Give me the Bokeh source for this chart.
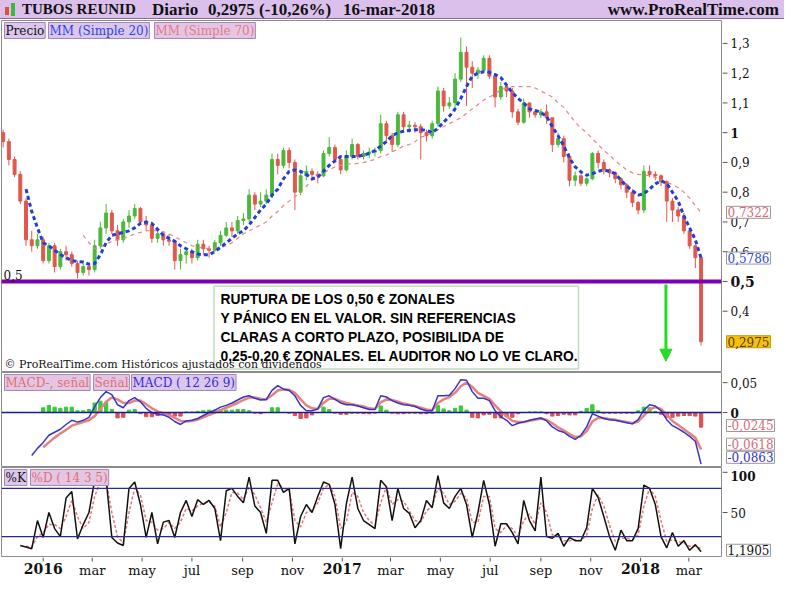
import numpy as np
import pandas as pd
from bokeh.plotting import figure
from bokeh.layouts import column, row
from bokeh.models import (ColumnDataSource, Span, Label, BoxAnnotation, Arrow,
                          NormalHead, Div, Range1d, Spacer)
from bokeh.core.properties import value
from bokeh.embed import file_html
from bokeh.resources import INLINE

# ---------------- data (weekly) ----------------
first_week = "2015-11-13"
n_weeks = 123

opens = [1.00, 0.97, 0.91, 0.86, 0.77, 0.64, 0.62, 0.64, 0.57, 0.62,
         0.55, 0.60, 0.59, 0.56, 0.53, 0.55, 0.54, 0.62, 0.68, 0.73,
         0.67, 0.64, 0.70, 0.72, 0.745, 0.70, 0.69, 0.645, 0.66, 0.64,
         0.635, 0.57, 0.59, 0.60, 0.58, 0.625, 0.61, 0.605, 0.63, 0.655,
         0.68, 0.67, 0.705, 0.71, 0.79, 0.76, 0.77, 0.79, 0.91, 0.89,
         0.94, 0.90, 0.80, 0.855, 0.87, 0.86, 0.855, 0.93, 0.95, 0.91,
         0.875, 0.92, 0.96, 0.92, 0.93, 0.935, 0.94, 1.03, 0.99, 0.96,
         1.06, 1.02, 1.025, 1.02, 1.00, 0.99, 1.03, 1.14, 1.09, 1.10,
         1.18, 1.27, 1.22, 1.20, 1.21, 1.25, 1.19, 1.12, 1.155, 1.14,
         1.07, 1.035, 1.10, 1.07, 1.06, 1.07, 1.05, 0.96, 0.98, 0.92,
         0.84, 0.855, 0.83, 0.845, 0.93, 0.90, 0.875, 0.865, 0.845, 0.825,
         0.80, 0.765, 0.74, 0.87, 0.86, 0.855, 0.835, 0.77, 0.74, 0.72,
         0.67, 0.62, 0.58]
highs = [1.01, 0.98, 0.92, 0.87, 0.78, 0.67, 0.66, 0.65, 0.63, 0.63,
         0.61, 0.62, 0.60, 0.57, 0.57, 0.56, 0.64, 0.70, 0.76, 0.74,
         0.69, 0.71, 0.74, 0.76, 0.75, 0.72, 0.70, 0.67, 0.67, 0.66,
         0.64, 0.61, 0.61, 0.61, 0.64, 0.64, 0.62, 0.64, 0.67, 0.70,
         0.70, 0.72, 0.73, 0.81, 0.80, 0.80, 0.81, 0.93, 0.93, 0.95,
         0.95, 0.91, 0.87, 0.89, 0.88, 0.87, 0.94, 0.985, 0.96, 0.92,
         0.94, 0.98, 0.965, 0.94, 0.95, 0.95, 1.06, 1.04, 1.00, 1.07,
         1.07, 1.04, 1.035, 1.03, 1.01, 1.04, 1.155, 1.15, 1.12, 1.20,
         1.32, 1.29, 1.24, 1.22, 1.26, 1.26, 1.20, 1.17, 1.16, 1.15,
         1.08, 1.115, 1.10, 1.08, 1.08, 1.095, 1.05, 1.00, 0.99, 0.93,
         0.87, 0.86, 0.85, 0.935, 0.94, 0.91, 0.88, 0.87, 0.85, 0.83,
         0.81, 0.77, 0.89, 0.89, 0.87, 0.86, 0.84, 0.78, 0.75, 0.73,
         0.68, 0.62, 0.59]
lows = [0.95, 0.89, 0.85, 0.76, 0.62, 0.60, 0.61, 0.56, 0.56, 0.53,
        0.54, 0.57, 0.55, 0.51, 0.52, 0.52, 0.53, 0.61, 0.66, 0.66,
        0.62, 0.63, 0.68, 0.71, 0.69, 0.67, 0.63, 0.63, 0.62, 0.62,
        0.54, 0.54, 0.56, 0.56, 0.57, 0.59, 0.58, 0.60, 0.62, 0.65,
        0.65, 0.66, 0.69, 0.70, 0.74, 0.75, 0.76, 0.78, 0.86, 0.88,
        0.88, 0.74, 0.79, 0.84, 0.84, 0.83, 0.85, 0.92, 0.90, 0.86,
        0.87, 0.91, 0.91, 0.91, 0.915, 0.92, 0.93, 0.97, 0.935, 0.95,
        1.00, 1.00, 1.00, 0.91, 0.97, 0.98, 1.02, 1.07, 1.08, 1.07,
        1.17, 1.09, 1.15, 1.18, 1.20, 1.18, 1.085, 1.11, 1.12, 1.05,
        1.025, 1.03, 1.05, 1.05, 1.05, 1.03, 0.935, 0.95, 0.90, 0.82,
        0.82, 0.82, 0.82, 0.84, 0.88, 0.86, 0.85, 0.83, 0.81, 0.78,
        0.75, 0.725, 0.73, 0.85, 0.84, 0.82, 0.70, 0.70, 0.70, 0.66,
        0.61, 0.545, 0.285]
closes = [0.97, 0.91, 0.86, 0.77, 0.64, 0.62, 0.64, 0.57, 0.62, 0.55,
          0.60, 0.59, 0.56, 0.53, 0.55, 0.54, 0.62, 0.68, 0.73, 0.67,
          0.64, 0.70, 0.72, 0.745, 0.70, 0.69, 0.645, 0.66, 0.64, 0.635,
          0.57, 0.59, 0.60, 0.58, 0.625, 0.61, 0.605, 0.63, 0.655, 0.68,
          0.67, 0.705, 0.71, 0.79, 0.76, 0.77, 0.79, 0.91, 0.89, 0.94,
          0.90, 0.80, 0.855, 0.87, 0.86, 0.855, 0.93, 0.95, 0.91, 0.875,
          0.92, 0.96, 0.92, 0.93, 0.935, 0.94, 1.03, 0.99, 0.96, 1.06,
          1.02, 1.025, 1.02, 1.00, 0.99, 1.03, 1.14, 1.09, 1.10, 1.18,
          1.27, 1.22, 1.20, 1.21, 1.25, 1.19, 1.12, 1.155, 1.14, 1.07,
          1.035, 1.10, 1.07, 1.06, 1.07, 1.05, 0.96, 0.98, 0.92, 0.84,
          0.855, 0.83, 0.845, 0.93, 0.90, 0.875, 0.865, 0.845, 0.825, 0.80,
          0.765, 0.74, 0.87, 0.86, 0.855, 0.835, 0.77, 0.74, 0.72, 0.67,
          0.62, 0.58, 0.2975]

ma20 = [None] * 4 + [
    0.81, 0.735, 0.68, 0.63, 0.62, 0.605, 0.59, 0.58, 0.57, 0.567,
    0.565, 0.558, 0.56, 0.59, 0.63, 0.655, 0.66, 0.665, 0.67, 0.68,
    0.695, 0.70, 0.695, 0.675, 0.655, 0.645, 0.635, 0.62, 0.61, 0.60,
    0.592, 0.59, 0.59, 0.60, 0.615, 0.63, 0.645, 0.66, 0.67, 0.69,
    0.715, 0.74, 0.76, 0.79, 0.81, 0.845, 0.87, 0.875, 0.87, 0.86,
    0.845, 0.85, 0.87, 0.89, 0.905, 0.92, 0.92, 0.92, 0.92, 0.925,
    0.93, 0.94, 0.955, 0.97, 0.99, 1.00, 1.005, 1.008, 1.01, 1.01,
    1.008, 1.00, 1.015, 1.035, 1.055, 1.08, 1.115, 1.155, 1.19, 1.20,
    1.205, 1.203, 1.195, 1.185, 1.16, 1.135, 1.115, 1.10, 1.08, 1.075,
    1.068, 1.055, 1.02, 0.99, 0.955, 0.915, 0.885, 0.868, 0.857, 0.862,
    0.87, 0.875, 0.87, 0.862, 0.84, 0.82, 0.805, 0.79, 0.795, 0.81,
    0.828, 0.838, 0.83, 0.80, 0.77, 0.72, 0.68, 0.64, 0.5786]
ma70 = [None] * 14 + [
    0.655, 0.63, 0.61, 0.615, 0.625, 0.635, 0.64, 0.645, 0.652, 0.66,
    0.665, 0.67, 0.672, 0.67, 0.667, 0.66, 0.65, 0.64, 0.63, 0.62,
    0.615, 0.612, 0.61, 0.612, 0.615, 0.62, 0.63, 0.645, 0.66, 0.67,
    0.68, 0.69, 0.70, 0.72, 0.735, 0.755, 0.77, 0.785, 0.80, 0.82,
    0.84, 0.855, 0.865, 0.875, 0.885, 0.89, 0.895, 0.895, 0.897, 0.90,
    0.905, 0.91, 0.92, 0.925, 0.935, 0.945, 0.955, 0.96, 0.97, 0.985,
    0.99, 1.00, 1.01, 1.02, 1.03, 1.04, 1.05, 1.065, 1.08, 1.095,
    1.11, 1.12, 1.13, 1.145, 1.15, 1.155, 1.155, 1.155, 1.155, 1.15,
    1.14, 1.13, 1.12, 1.10, 1.085, 1.06, 1.035, 1.015, 1.00, 0.98,
    0.96, 0.94, 0.925, 0.905, 0.89, 0.875, 0.865, 0.86, 0.858, 0.855,
    0.85, 0.842, 0.835, 0.825, 0.815, 0.80, 0.78, 0.755, 0.7322]

macd = [None] * 5 + [
    -0.072, -0.06, -0.05, -0.038, -0.033,
    -0.028, -0.02, -0.013, -0.016, -0.013, -0.008, 0.01, 0.025, 0.035, 0.03,
    0.013, 0.008, 0.02, 0.025, 0.018, 0.007, 0.0, -0.003, -0.004, -0.008,
    -0.015, -0.02, -0.014, -0.013, -0.01, -0.005, 0.0, 0.004, 0.009, 0.012,
    0.016, 0.021, 0.026, 0.028, 0.024, 0.021, 0.022, 0.037, 0.045, 0.039,
    0.037, 0.028, 0.012, 0.003, 0.003, 0.006, 0.025, 0.028, 0.022, 0.016,
    0.013, 0.013, 0.011, 0.008, 0.005, 0.005, 0.028, 0.026, 0.02, 0.016,
    0.013, 0.012, 0.01, 0.006, 0.003, 0.003, 0.028, 0.028, 0.029, 0.04,
    0.055, 0.054, 0.035, 0.024, 0.024, 0.02, 0.003, -0.007, -0.013, -0.022,
    -0.018, -0.016, -0.013, -0.011, -0.009, -0.014, -0.024, -0.03, -0.033, -0.04,
    -0.045, -0.038, -0.024, -0.002, -0.006, -0.01, -0.012, -0.013, -0.015, -0.017,
    -0.019, -0.012, 0.004, 0.013, 0.011, 0.003, -0.012, -0.022, -0.027, -0.033,
    -0.04, -0.048, -0.0863]
signal = [None] * 7 + [
    -0.058, -0.05, -0.042,
    -0.035, -0.029, -0.022, -0.019, -0.016, -0.013, -0.006, 0.006, 0.018, 0.025,
    0.022, 0.016, 0.016, 0.02, 0.02, 0.014, 0.007, 0.002, -0.001, -0.004,
    -0.009, -0.014, -0.015, -0.014, -0.012, -0.008, -0.004, 0.0, 0.004, 0.008,
    0.012, 0.016, 0.021, 0.025, 0.025, 0.023, 0.022, 0.029, 0.037, 0.039,
    0.038, 0.033, 0.022, 0.012, 0.007, 0.006, 0.016, 0.023, 0.023, 0.019,
    0.016, 0.014, 0.012, 0.010, 0.007, 0.006, 0.017, 0.022, 0.021, 0.018,
    0.015, 0.013, 0.011, 0.008, 0.005, 0.004, 0.016, 0.022, 0.026, 0.033,
    0.044, 0.05, 0.043, 0.033, 0.028, 0.023, 0.012, 0.002, -0.006, -0.014,
    -0.016, -0.016, -0.014, -0.012, -0.01, -0.012, -0.018, -0.025, -0.03, -0.036,
    -0.041, -0.040, -0.031, -0.015, -0.009, -0.009, -0.011, -0.012, -0.014, -0.016,
    -0.018, -0.015, -0.005, 0.005, 0.009, 0.006, -0.004, -0.014, -0.021, -0.028,
    -0.035, -0.042, -0.0618]

stoch_k = [None] * 3 + [
    9, 7, 5, 40, 19, 50, 30,
    20, 68, 76, 17, 35, 50, 90, 90, 92, 19,
    12, 9, 80, 88, 60, 19, 50, 11, 38, 40,
    19, 50, 65, 45, 66, 60, 65, 55, 15, 77,
    80, 70, 62, 94, 58, 50, 24, 90, 90, 75,
    80, 11, 45, 60, 50, 70, 88, 85, 60, 5,
    61, 94, 55, 40, 35, 30, 90, 82, 40, 80,
    55, 49, 31, 40, 65, 56, 96, 62, 55, 70,
    80, 60, 19, 50, 90, 60, 8, 36, 36, 25,
    11, 65, 40, 27, 94, 20, 18, 24, 8, 19,
    15, 15, 31, 80, 69, 45, 20, 3, 28, 15,
    15, 30, 84, 80, 60, 20, 6, 25, 8, 15,
    3, 10, 1.19]
stoch_d = [None] * 4 + [
    8, 7, 20, 25, 35, 35,
    30, 45, 65, 45, 30, 38, 70, 88, 90, 50,
    20, 12, 50, 80, 72, 40, 38, 28, 30, 38,
    30, 38, 55, 52, 58, 62, 63, 58, 32, 50,
    75, 74, 66, 82, 72, 56, 38, 62, 86, 80,
    78, 40, 32, 50, 53, 62, 80, 85, 70, 30,
    38, 75, 70, 50, 40, 34, 62, 82, 60, 66,
    64, 52, 40, 38, 52, 58, 80, 74, 60, 64,
    74, 68, 38, 38, 70, 70, 30, 25, 34, 30,
    20, 40, 48, 35, 62, 50, 22, 22, 15, 15,
    16, 15, 22, 55, 72, 58, 34, 14, 18, 18,
    16, 22, 58, 80, 70, 40, 14, 16, 14, 12,
    8, 8, 5]

price_ticks = [0.4, 0.5, 0.6, 0.7, 0.8, 0.9, 1.0, 1.1, 1.2, 1.3]
price_tick_labels = ["0,4", "0,5", "0,6", "0,7", "0,8", "0,9", "1", "1,1", "1,2", "1,3"]
price_tick_bold = [False, True, False, False, False, False, True, False, False, False]
macd_ticks = [0.0, 0.05]
macd_tick_labels = ["0", "0,05"]
macd_tick_bold = [True, False]
stoch_ticks = [50, 100]
stoch_tick_labels = ["50", "100"]
stoch_tick_bold = [False, True]
month_ticks = ["2016-01-01", "2016-03-01", "2016-05-01", "2016-07-01", "2016-09-01",
               "2016-11-01", "2017-01-01", "2017-03-01", "2017-05-01", "2017-07-01",
               "2017-09-01", "2017-11-01", "2018-01-01", "2018-03-01"]
month_labels = ["2016", "mar", "may", "jul", "sep", "nov", "2017", "mar", "may",
                "jul", "sep", "nov", "2018", "mar"]

# ---------------- helpers ----------------
dates = pd.date_range(first_week, periods=n_weeks, freq="7D")
o = np.array(opens); h = np.array(highs); l = np.array(lows); c = np.array(closes)
UP, DOWN = "#4cb83c", "#e0584c"
cols = [UP if cc >= oo else DOWN for oo, cc in zip(o, c)]

W = 784
RB = 62            # right-hand axis column
MW = W - RB        # main panel width (722)
SERIF = "DejaVu Serif"
LILAC = "#dcc6ec"
LILAC_B = "#a488b8"
AX = "#8c8c8c"
DAY = 86400000.0


def ms(s):
    return pd.Timestamp(s).value / 1e6


xr = Range1d(pd.Timestamp("2015-11-11"), pd.Timestamp("2018-04-10"))


def main_fig(hgt, yr):
    p = figure(width=MW, height=hgt, x_axis_type="datetime", x_range=xr, y_range=yr,
               output_backend="svg", toolbar_location=None, x_axis_location=None,
               y_axis_location=None, min_border_left=1, min_border_right=1,
               min_border_top=0, min_border_bottom=0)
    p.xgrid.visible = False
    p.ygrid.visible = False
    p.outline_line_color = AX
    p.border_fill_color = "white"
    return p


def side_fig(hgt, yr, ticks, labels, bold, big=None, offsets=None):
    s = figure(width=RB, height=hgt, x_range=Range1d(0, RB), y_range=yr,
               output_backend="svg", toolbar_location=None, x_axis_location=None,
               y_axis_location=None, min_border_left=0, min_border_right=0,
               min_border_top=0, min_border_bottom=0)
    s.xgrid.visible = False
    s.ygrid.visible = False
    s.outline_line_color = None
    s.segment(x0=0, y0=ticks, x1=5, y1=ticks, line_color="#555555", line_width=1)
    offsets = offsets or {}
    for t, lab, b in zip(ticks, labels, bold):
        size = big[1] if (big and lab == big[0]) else "12px"
        s.text(x=[8], y=[t], text=[lab], text_font=value(SERIF),
               text_font_size=value(size), text_font_style="bold" if b else "normal",
               text_color="#111111", text_baseline="middle",
               y_offset=offsets.get(lab, 0))
    return s


def legend_box(p, x, frame_h, text, color, bg=LILAC):
    p.add_layout(Label(x=x, y=frame_h - 2, x_units="screen", y_units="screen",
                       text=text, text_color=color, text_font=SERIF,
                       text_font_size="12px", text_baseline="top", text_align="left",
                       background_fill_color=bg, border_line_color=LILAC_B,
                       padding=1))


def value_box(s, y, text, color, bg="white", border="#9a9a9a"):
    s.add_layout(Label(x=4, y=y, x_units="screen", y_units="data", text=text,
                       text_color=color, text_font=SERIF, text_font_size="12px",
                       text_baseline="middle", text_align="left",
                       background_fill_color=bg, border_line_color=border, padding=1))


# ---------------- title bar ----------------
title = Div(width=W, height=20, margin=0, text=(
    '<div style="position:relative;width:784px;height:19px;background:#dcc0ec;'
    'border-bottom:1px solid #8a6a9a;font-family:\'Liberation Serif\';font-weight:bold;'
    'font-size:17px;line-height:19px;white-space:nowrap;color:#111;">'
    '<span style="position:absolute;left:5px;top:7px;width:4px;height:8px;background:#e05040"></span>'
    '<span style="position:absolute;left:11px;top:3px;width:4px;height:13px;background:#3cb83c"></span>'
    '<span style="position:absolute;left:22px;font-size:15px;">TUBOS REUNID</span>'
    '<span style="position:absolute;left:152px;">Diario</span>'
    '<span style="position:absolute;left:208px;">0,2975 (-10,26%)</span>'
    '<span style="position:absolute;left:343px;">16-mar-2018</span>'
    '<span style="position:absolute;right:5px;">www.ProRealTime.com</span>'
    '</div>'))

# ---------------- price panel ----------------
PH = 352
yr_p = Range1d(0.194, 1.377)
pp = main_fig(PH, yr_p)
src = ColumnDataSource(dict(d=dates, h=h, l=l, top=np.maximum(o, c),
                            bot=np.minimum(o, c), col=cols))
pp.segment("d", "h", "d", "l", color="col", line_width=1, source=src)
pp.vbar(x="d", width=3.6 * DAY, top="top", bottom="bot", fill_color="col",
        line_color="col", source=src)
pp.line(dates, np.array(ma70, dtype=float), line_color="#e08888", line_width=1.2,
        line_dash="4 4")
pp.line(dates, np.array(ma20, dtype=float), line_color="#1f3fd8", line_width=3,
        line_dash="4 3")

pp.add_layout(Span(location=0.5, dimension="width", line_color="#7f00b2",
                   line_width=4))
pp.add_layout(Label(x=2, y=0.5, x_units="screen", y_units="data", text="0,5",
                    text_font=SERIF, text_font_size="12px", text_color="#111111",
                    text_baseline="bottom", y_offset=1))

pp.add_layout(BoxAnnotation(left=ms("2016-07-28"), right=ms("2017-10-17"),
                            top=0.484, bottom=0.206, fill_color="white", fill_alpha=1,
                            line_color="#2e8b2e", line_width=1.5))
note = ["RUPTURA DE LOS 0,50 € ZONALES",
        "Y PÁNICO EN EL VALOR. SIN REFERENCIAS",
        "CLARAS A CORTO PLAZO, POSIBILIDA DE",
        "0,25-0,20 € ZONALES. EL AUDITOR NO LO VE CLARO."]
for txt, yy in zip(note, [0.439, 0.374, 0.310, 0.248]):
    pp.add_layout(Label(x=ms("2016-08-05"), y=yy, text=txt, text_font="Liberation Sans",
                        text_font_style="bold", text_font_size="13.8px",
                        text_color="#000000", text_baseline="middle"))

pp.add_layout(Arrow(end=NormalHead(size=12, fill_color="#22dd22", line_color="#22dd22"),
                    x_start=ms("2018-02-01"), y_start=0.49, x_end=ms("2018-02-01"),
                    y_end=0.232, line_color="#22dd22", line_width=3))

pp.add_layout(Label(x=3, y=2, x_units="screen", y_units="screen",
                    text="© ProRealTime.com  Históricos ajustados con dividendos",
                    text_font=SERIF, text_font_size="11px", text_color="#111111",
                    text_baseline="bottom"))

legend_box(pp, 3, PH, "Precio", "#111111")
legend_box(pp, 47, PH, "MM (Simple 20)", "#2b46e0")
legend_box(pp, 153, PH, "MM (Simple 70)", "#e07a8a", bg="#e4c6e4")

sp = side_fig(PH, yr_p, price_ticks, price_tick_labels, price_tick_bold,
              big=("0,5", "14px"))
value_box(sp, 0.7322, "0,7322", "#d86a7a")
value_box(sp, 0.5786, "0,5786", "#2b46e0")
value_box(sp, 0.2975, "0,2975", "#5a3a00", bg="#f4c20d", border="#c89a00")

# ---------------- MACD panel ----------------
MH = 95
yr_m = Range1d(-0.092, 0.067)
pm = main_fig(MH, yr_m)
macd_a = np.array(macd, dtype=float)
sig_a = np.array(signal, dtype=float)
hist = macd_a - sig_a
hcol = ["#3cc83c" if v >= 0 else "#e05050" for v in np.nan_to_num(hist)]
pm.vbar(x=dates, top=np.nan_to_num(hist), bottom=0, width=4 * DAY,
        fill_color=hcol, line_color=hcol)
pm.add_layout(Span(location=0, dimension="width", line_color="#1c1c8c", line_width=1.5))
pm.line(dates, sig_a, line_color="#e88080", line_width=2.5)
pm.line(dates, macd_a, line_color="#3535c8", line_width=1.5)
legend_box(pm, 3, MH, "MACD-, señal", "#e07070", bg="#e4c6e4")
legend_box(pm, 92, MH, "Señal", "#e07070", bg="#e4c6e4")
legend_box(pm, 130, MH, "MACD ( 12 26 9)", "#3030d0")

sm = side_fig(MH, yr_m, macd_ticks, macd_tick_labels, macd_tick_bold)
value_box(sm, -0.0217, "-0,0245", "#d86a7a")
value_box(sm, -0.053, "-0,0618", "#d86a7a")
value_box(sm, -0.075, "-0,0863", "#3030d0")

# ---------------- stochastic panel ----------------
SH = 90
yr_s = Range1d(-6, 106)
ps = main_fig(SH, yr_s)
for lv in (80, 20):
    ps.add_layout(Span(location=lv, dimension="width", line_color="#2a2a8c",
                       line_width=1.2))
ps.line(dates, np.array(stoch_d, dtype=float), line_color="#e07878", line_width=1.5,
        line_dash="3 2")
ps.line(dates, np.array(stoch_k, dtype=float), line_color="#111111", line_width=1.5)
legend_box(ps, 3, SH, "%K", "#111111")
legend_box(ps, 29, SH, "%D ( 14 3 5)", "#e07070", bg="#e4c6e4")

ss = side_fig(SH, yr_s, stoch_ticks, stoch_tick_labels, stoch_tick_bold,
              offsets={"100": 4})
value_box(ss, 3, "1,1905", "#111111")

# ---------------- date axis row ----------------
AH = 27
px = figure(width=MW, height=AH, x_axis_type="datetime", x_range=xr,
            y_range=Range1d(0, AH), output_backend="svg", toolbar_location=None,
            x_axis_location=None, y_axis_location=None, min_border_left=1,
            min_border_right=1, min_border_top=0, min_border_bottom=0)
px.xgrid.visible = False
px.ygrid.visible = False
px.outline_line_color = None
tick_dt = pd.to_datetime(month_ticks)
px.segment(x0=tick_dt, y0=AH, x1=tick_dt, y1=AH - 4, line_color="#555555")
is_year = [lab.isdigit() for lab in month_labels]
px.text(x=[t for t, y in zip(tick_dt, is_year) if not y], y=AH - 5,
        text=[lab for lab, y in zip(month_labels, is_year) if not y],
        text_font=value(SERIF), text_font_size=value("13px"), text_color="#111111",
        text_align="center", text_baseline="top")
px.text(x=[t for t, y in zip(tick_dt, is_year) if y], y=AH - 5,
        text=[lab for lab, y in zip(month_labels, is_year) if y],
        text_font=value(SERIF), text_font_size=value("14px"), text_font_style="bold",
        text_color="#111111", text_align="center", text_baseline="top")

layout = column(title,
                row(pp, sp, spacing=0),
                row(pm, sm, spacing=0),
                row(ps, ss, spacing=0),
                row(px, Spacer(width=RB, height=AH), spacing=0),
                spacing=0)
open("out.html", "w").write(file_html(layout, INLINE))
